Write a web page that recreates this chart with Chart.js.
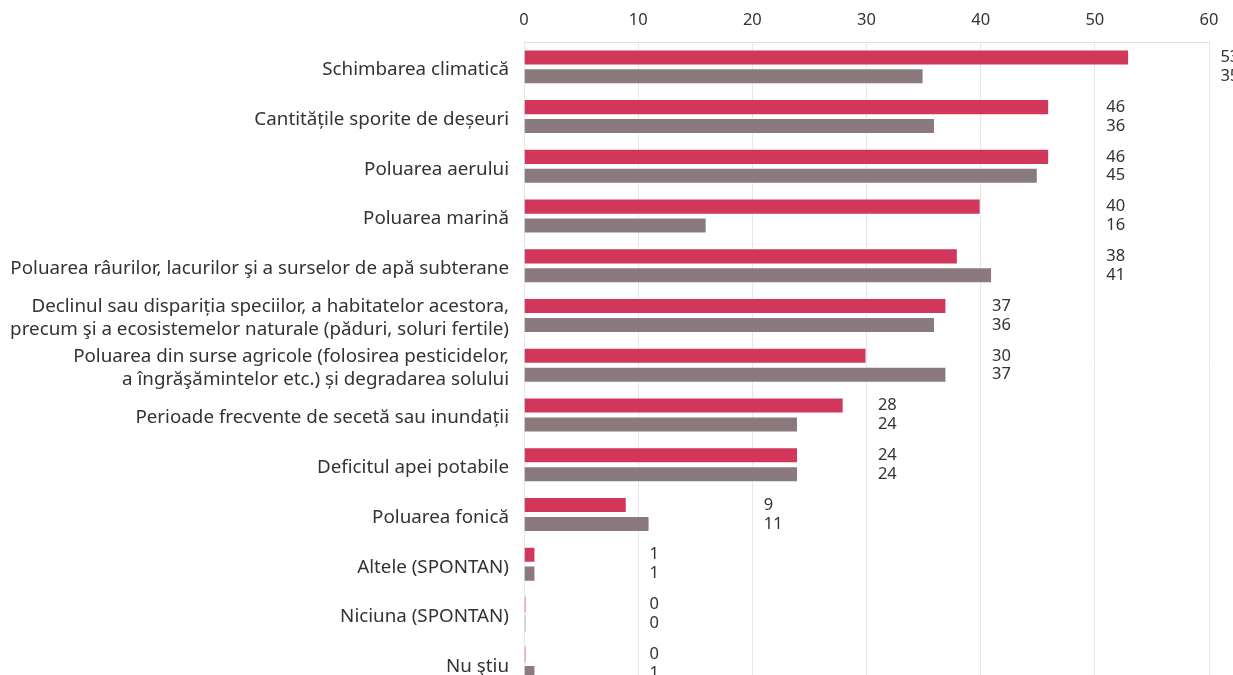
<!DOCTYPE html>
<html>
<head>
<meta charset="utf-8">
<script src="https://cdn.jsdelivr.net/npm/chart.js@4/dist/chart.umd.min.js"></script>
<style>
  html, body { margin: 0; padding: 0; background: #fff; overflow: hidden; }
  canvas { display: block; }
</style>
</head>
<body>
<canvas id="chart" width="1300" height="715"></canvas>
<script>
// Categorii
const categorii = [
  'Schimbarea climatică',
  'Cantitățile sporite de deșeuri',
  'Poluarea aerului',
  'Poluarea marină',
  'Poluarea râurilor, lacurilor şi a surselor de apă subterane',
  ['Declinul sau dispariția speciilor, a habitatelor acestora,', 'precum şi a ecosistemelor naturale (păduri, soluri fertile)'],
  ['Poluarea din surse agricole (folosirea pesticidelor,', 'a îngrăşămintelor etc.) și degradarea solului'],
  'Perioade frecvente de secetă sau inundații',
  'Deficitul apei potabile',
  'Poluarea fonică',
  'Altele (SPONTAN)',
  'Niciuna (SPONTAN)',
  'Nu ştiu'
];

// Serii
const serieA = [53, 46, 46, 40, 38, 37, 30, 28, 24, 9, 1, 0, 0];
const serieB = [35, 36, 45, 16, 41, 36, 37, 24, 24, 11, 1, 0, 1];

const ticksX = [0, 10, 20, 30, 40, 50, 60];

const FONT = "'Noto Sans', sans-serif";
const TXT = '#333333';

// etichete valori (doua randuri, in dreapta grupului)
const valoriPlugin = {
  id: 'valori',
  afterDatasetsDraw(chart) {
    const ctx = chart.ctx;
    const x = chart.scales.x;
    const m0 = chart.getDatasetMeta(0), m1 = chart.getDatasetMeta(1);
    ctx.save();
    ctx.font = '16.5px ' + FONT;
    ctx.fillStyle = TXT;
    ctx.textAlign = 'left';
    ctx.textBaseline = 'middle';
    categorii.forEach((c, i) => {
      const mx = Math.max(serieA[i], serieB[i]);
      const px = x.getPixelForValue(Math.floor(mx / 10) * 10 + 11);
      ctx.fillText(String(serieA[i]), px, m0.data[i].y);
      ctx.fillText(String(serieB[i]), px, m1.data[i].y);
    });
    ctx.restore();
  }
};

new Chart(document.getElementById('chart'), {
  type: 'bar',
  data: {
    labels: categorii,
    datasets: [
      {
        data: serieA,
        backgroundColor: c => c.raw === 0 ? '#eeaabb' : '#d1365b',
        borderColor: 'rgba(255,255,255,0.5)',
        borderWidth: c => c.raw === 0 ? 0 : 1,
        minBarLength: 2,
        categoryPercentage: 0.76,
        barPercentage: 0.85
      },
      {
        data: serieB,
        backgroundColor: c => c.raw === 0 ? '#d4d0d1' : '#8a7a7d',
        borderColor: 'rgba(255,255,255,0.5)',
        borderWidth: c => c.raw === 0 ? 0 : 1,
        minBarLength: 2,
        categoryPercentage: 0.76,
        barPercentage: 0.85
      }
    ]
  },
  options: {
    indexAxis: 'y',
    responsive: false,
    animation: false,
    layout: { padding: { left: 0, right: 91, top: 0, bottom: 9 } },
    plugins: { legend: { display: false }, tooltip: { enabled: false } },
    scales: {
      x: {
        position: 'top',
        min: 0, max: 60,
        afterBuildTicks: s => { s.ticks = ticksX.map(v => ({ value: v })); },
        afterFit: s => { s.height = 42; },
        grid: { color: '#e6e6e6', drawTicks: false },
        border: { display: true, color: '#e0e0e0' },
        ticks: { color: TXT, font: { family: FONT, size: 16.5 }, padding: 12 }
      },
      y: {
        afterFit: s => { s.width = 524; },
        grid: { display: false, drawTicks: false },
        border: { display: false },
        ticks: { autoSkip: false, labelOffset: 3, color: TXT, font: { family: FONT, size: 18.8, lineHeight: 1.22 }, padding: 15 }
      }
    }
  },
  plugins: [valoriPlugin]
});
</script>
</body>
</html>
